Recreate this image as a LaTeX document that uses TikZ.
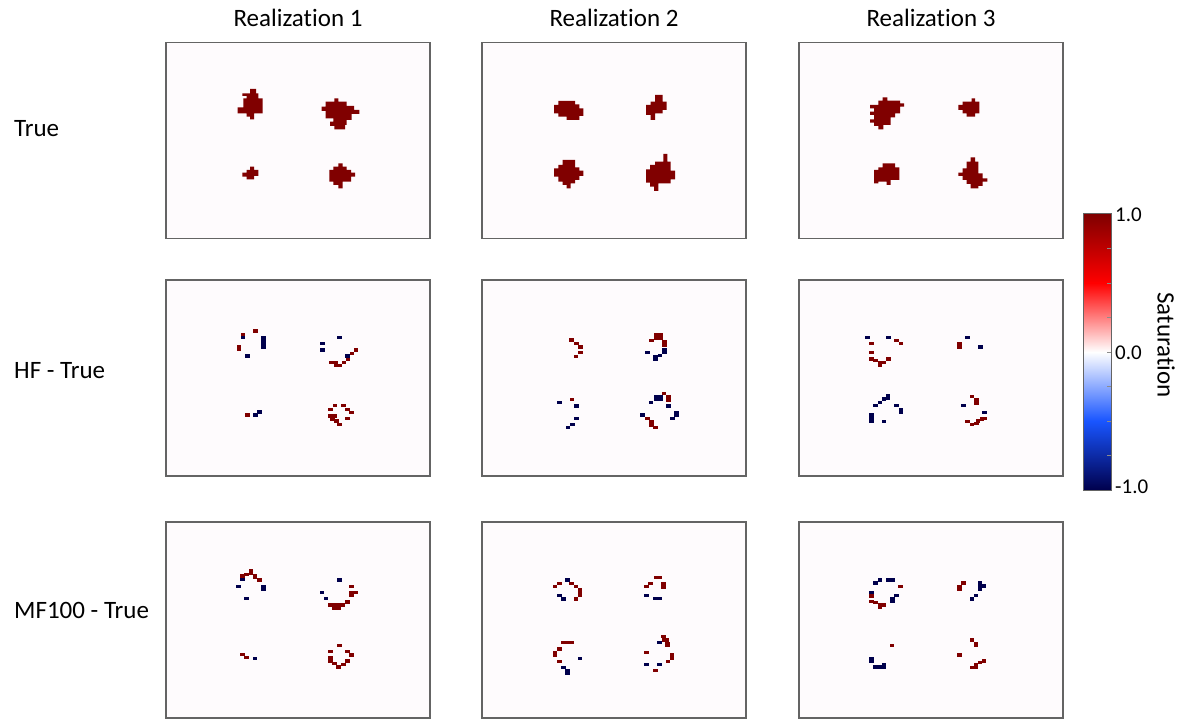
\documentclass[tikz,border=0pt]{standalone}
\usepackage{fontspec}
\setmainfont[Ligatures=NoCommon]{Carlito}
\usepackage{tikz}
\usetikzlibrary{positioning}

\definecolor{satred}{rgb}{0.5,0,0}
\definecolor{satblue}{rgb}{0,0,0.3}
\definecolor{midblue}{RGB}{25,85,255}
\definecolor{panelfill}{RGB}{254,251,253}
\definecolor{framegray}{RGB}{100,100,100}

\tikzset{
  panel/.style={draw=framegray, line width=1.2pt, fill=panelfill, minimum width=264pt, minimum height=196pt, inner sep=0pt},
  redcell/.style={fill=satred},
  bluecell/.style={fill=satblue},
  bigtext/.style={font=\fontsize{25}{30}\selectfont, inner sep=0pt},
  ticktext/.style={font=\fontsize{21}{25}\selectfont, inner sep=0pt}
}

\begin{document}
\begin{tikzpicture}[x=1pt,y=-1pt]
        \useasboundingbox (0,0) rectangle (1178,719);

        \foreach \c/\cx in {1/298,2/614,3/931}
            \foreach \r/\cy in {1/140.5,2/378,3/620}
                \node[panel] (p\r\c) at (\cx,\cy) {};

        \foreach \c/\cx in {1/298,2/614,3/931}
            \node[bigtext, anchor=base] (title\c) at (\cx,27) {Realization \c};

        \node[bigtext, anchor=base west] (rowtrue) at (14,137) {True};
        \node[bigtext, anchor=base west] (rowhf) at (14,378) {HF - True};
        \node[bigtext, anchor=base west] (rowmf) at (14,618) {MF100 - True};

        % True
        \begin{scope}[shift={(150,0)},x=1pt/3,y=-1pt/3]
            \fill[redcell] (300,267) -- (318,267) -- (318,280) -- (325,280) -- (325,295) -- (338,295) -- (338,340) -- (312,340) -- (312,358) -- (300,358) -- (300,350) -- (290,350) -- (290,340) -- (263,340) -- (263,322) -- (280,322) -- (280,295) -- (290,295) -- (290,288) -- (277,288) -- (277,280) -- (300,280) -- cycle;
            \fill[redcell] (553,295) -- (565,295) -- (565,305) -- (590,305) -- (590,318) -- (612,318) -- (612,330) -- (628,330) -- (628,342) -- (605,342) -- (605,360) -- (590,360) -- (590,375) -- (585,375) -- (585,388) -- (553,388) -- (553,378) -- (540,378) -- (540,365) -- (550,365) -- (550,355) -- (527,355) -- (527,333) -- (515,333) -- (515,320) -- (527,320) -- (527,305) -- (553,305) -- cycle;
            \fill[redcell] (300,500) -- (312,500) -- (312,510) -- (325,510) -- (325,528) -- (312,528) -- (312,538) -- (290,538) -- (290,530) -- (277,530) -- (277,518) -- (290,518) -- (290,510) -- (300,510) -- cycle;
            \fill[redcell] (565,490) -- (578,490) -- (578,500) -- (590,500) -- (590,510) -- (603,510) -- (603,518) -- (615,518) -- (615,530) -- (603,530) -- (603,545) -- (578,545) -- (578,565) -- (565,565) -- (565,555) -- (550,555) -- (550,545) -- (538,545) -- (538,510) -- (550,510) -- (550,500) -- (565,500) -- cycle;
        \end{scope}
        \begin{scope}[shift={(530,80)},x=1pt/3,y=-1pt/3]
            \fill[redcell] (85,63) -- (135,63) -- (135,73) -- (148,73) -- (148,85) -- (160,85) -- (160,108) -- (148,108) -- (148,120) -- (110,120) -- (110,110) -- (85,110) -- (85,100) -- (72,100) -- (72,75) -- (85,75) -- cycle;
            \fill[redcell] (375,45) -- (398,45) -- (398,65) -- (410,65) -- (410,90) -- (398,90) -- (398,100) -- (375,100) -- (375,120) -- (362,120) -- (362,105) -- (348,105) -- (348,75) -- (362,75) -- (362,65) -- (375,65) -- cycle;
            \fill[redcell] (98,240) -- (135,240) -- (135,262) -- (148,262) -- (148,272) -- (160,272) -- (160,288) -- (148,288) -- (148,300) -- (135,300) -- (135,310) -- (122,310) -- (122,325) -- (110,325) -- (110,315) -- (98,315) -- (98,305) -- (85,305) -- (85,290) -- (72,290) -- (72,265) -- (85,265) -- (85,255) -- (98,255) -- cycle;
            \fill[redcell] (400,222) -- (412,222) -- (412,245) -- (422,245) -- (422,272) -- (435,272) -- (435,298) -- (422,298) -- (422,310) -- (385,310) -- (385,333) -- (372,333) -- (372,320) -- (360,320) -- (360,308) -- (348,308) -- (348,268) -- (360,268) -- (360,255) -- (375,255) -- (375,245) -- (400,245) -- cycle;
        \end{scope}
        \begin{scope}[shift={(850,80)},x=1pt/3,y=-1pt/3]
            \fill[redcell] (98,52) -- (112,52) -- (112,62) -- (150,62) -- (150,70) -- (162,70) -- (162,80) -- (150,80) -- (150,100) -- (135,100) -- (135,112) -- (122,112) -- (122,135) -- (100,135) -- (100,148) -- (85,148) -- (85,138) -- (72,138) -- (72,128) -- (60,128) -- (60,118) -- (72,118) -- (72,105) -- (60,105) -- (60,95) -- (72,95) -- (72,85) -- (60,85) -- (60,75) -- (85,75) -- (85,62) -- (98,62) -- cycle;
            \fill[redcell] (365,55) -- (375,55) -- (375,65) -- (388,65) -- (388,100) -- (375,100) -- (375,110) -- (350,110) -- (350,100) -- (338,100) -- (338,90) -- (325,90) -- (325,75) -- (338,75) -- (338,65) -- (365,65) -- cycle;
            \fill[redcell] (98,250) -- (135,250) -- (135,262) -- (148,262) -- (148,300) -- (122,300) -- (122,315) -- (110,315) -- (110,305) -- (85,305) -- (85,310) -- (72,310) -- (72,270) -- (85,270) -- (85,262) -- (98,262) -- cycle;
            \fill[redcell] (362,232) -- (375,232) -- (375,245) -- (385,245) -- (385,280) -- (398,280) -- (398,295) -- (412,295) -- (412,305) -- (398,305) -- (398,318) -- (385,318) -- (385,325) -- (362,325) -- (362,312) -- (350,312) -- (350,300) -- (338,300) -- (338,288) -- (325,288) -- (325,278) -- (338,278) -- (338,265) -- (350,265) -- (350,245) -- (362,245) -- cycle;
        \end{scope}

        % HF - True
        \begin{scope}[shift={(200,310)},x=1pt/3,y=-1pt/3]
            \foreach \x/\y in {167/63,129/73,117/109,117/119,395/157,408/157,408/167,420/167,432/157,444/148,456/130,468/120,142/315,405/287,430/287,392/298,443/298,455/308,392/318,405/318,398/327,410/333,418/343,443/325}
                \fill[redcell] (\x-6.6,\y-4.9) rectangle ++(13.3,9.9);
            \foreach \x/\y in {129/82,191/83,191/92,191/102,191/111,142/138,418/82,367/100,367/120,443/138,166/315,179/306}
                \fill[bluecell] (\x-6.6,\y-4.9) rectangle ++(13.3,9.9);
        \end{scope}
        \begin{scope}[shift={(530,315)},x=1pt/3,y=-1pt/3]
            \foreach \x/\y in {125/75,140/86,152/96,152/113,138/124,379/60,392/60,379/70,392/70,404/80,404/90,365/76,126/254,402/235,415/245,415/255,352/310,364/320,364/330,376/338}
                \fill[redcell] (\x-6.6,\y-4.9) rectangle ++(13.3,9.9);
            \foreach \x/\y in {404/103,404/113,390/122,377/125,377/133,352/113,88/263,140/273,140/310,127/328,114/338,380/245,380/252,392/245,392/252,363/263,415/273,440/292,440/300,428/310,338/300}
                \fill[bluecell] (\x-6.6,\y-4.9) rectangle ++(13.3,9.9);
        \end{scope}
        \begin{scope}[shift={(850,315)},x=1pt/3,y=-1pt/3]
            \foreach \x/\y in {140/76,153/86,64/86,64/113,64/132,77/137,90/142,90/150,102/142,115/132,328/87,328/97,366/244,379/255,379/264,353/320,366/328,379/326,384/318,396/312,404/310}
                \fill[redcell] (\x-6.6,\y-4.9) rectangle ++(13.3,9.9);
            \foreach \x/\y in {52/67,115/67,353/67,391/96,114/243,114/250,102/252,90/262,77/272,140/272,153/283,153/292,64/300,64/310,64/320,102/320,340/272,404/292}
                \fill[bluecell] (\x-6.6,\y-4.9) rectangle ++(13.3,9.9);
        \end{scope}

        % MF100 - True
        \begin{scope}[shift={(210,555)},x=1pt/3,y=-1pt/3]
            \foreach \x/\y in {110/58,123/48,123/56,135/62,135/68,148/75,98/63,424/94,424/113,436/113,424/122,412/141,362/150,374/150,386/150,398/150,374/160,386/160,98/298,110/308,388/271,362/290,412/290,424/300,362/308,362/318,374/326,386/336,400/328,412/318}
                \fill[redcell] (\x-6.6,\y-4.9) rectangle ++(13.3,9.9);
            \foreach \x/\y in {98/73,85/94,160/94,160/104,110/131,388/75,336/112,348/131,135/310}
                \fill[bluecell] (\x-6.6,\y-4.9) rectangle ++(13.3,9.9);
        \end{scope}
        \begin{scope}[shift={(530,555)},x=1pt/3,y=-1pt/3]
            \foreach \x/\y in {75/95,88/85,125/85,138/95,150/103,150/113,150/122,138/132,378/68,390/68,362/85,350/95,400/86,400/96,100/263,113/263,126/263,88/282,75/292,75/302,88/320,400/245,402/255,410/255,412/265,412/272,350/292,426/300,426/310,414/320,376/346}
                \fill[redcell] (\x-6.6,\y-4.9) rectangle ++(13.3,9.9);
            \foreach \x/\y in {113/75,88/122,100/132,350/122,376/131,389/131,150/310,100/338,113/346,113/355,388/263,350/328,388/328}
                \fill[bluecell] (\x-6.6,\y-4.9) rectangle ++(13.3,9.9);
        \end{scope}
        \begin{scope}[shift={(850,555)},x=1pt/3,y=-1pt/3]
            \foreach \x/\y in {152/95,64/123,64/140,77/142,90/150,90/158,102/150,340/84,328/95,328/102,126/272,366/255,378/265,378/272,328/300,366/338,378/330,390/322,402/318,378/338}
                \fill[redcell] (\x-6.6,\y-4.9) rectangle ++(13.3,9.9);
            \foreach \x/\y in {77/84,90/75,115/75,128/75,64/113,127/132,127/140,140/122,390/84,390/93,390/102,402/93,378/122,366/132,64/310,64/320,77/336,90/336,102/328,102/336}
                \fill[bluecell] (\x-6.6,\y-4.9) rectangle ++(13.3,9.9);
        \end{scope}

        % colour bar
        \shade[top color=satred, bottom color=red] (1083,214) rectangle (1111,283);
        \shade[top color=red, bottom color=white] (1083,283) rectangle (1111,352);
        \shade[top color=white, bottom color=midblue] (1083,352) rectangle (1111,421);
        \shade[top color=midblue, bottom color=satblue] (1083,421) rectangle (1111,490);
        \foreach \k in {1,...,7}
            \draw[black!45, line width=0.6pt] (1107,214+\k*34.5) -- (1111,214+\k*34.5);
        \node[draw=framegray, line width=1pt, minimum width=28pt, minimum height=276pt, inner sep=0pt] (cbar) at (1097,352) {};
        \node[ticktext, anchor=west] (tickone) at (1115,215) {1.0};
        \node[ticktext, anchor=west] (tickzero) at (1115,353) {0.0};
        \node[ticktext, anchor=west] (tickmone) at (1115,487) {-1.0};
        \node[bigtext, rotate=-90] (satlabel) at (1166,345) {Saturation};
    \end{tikzpicture}
\end{document}
